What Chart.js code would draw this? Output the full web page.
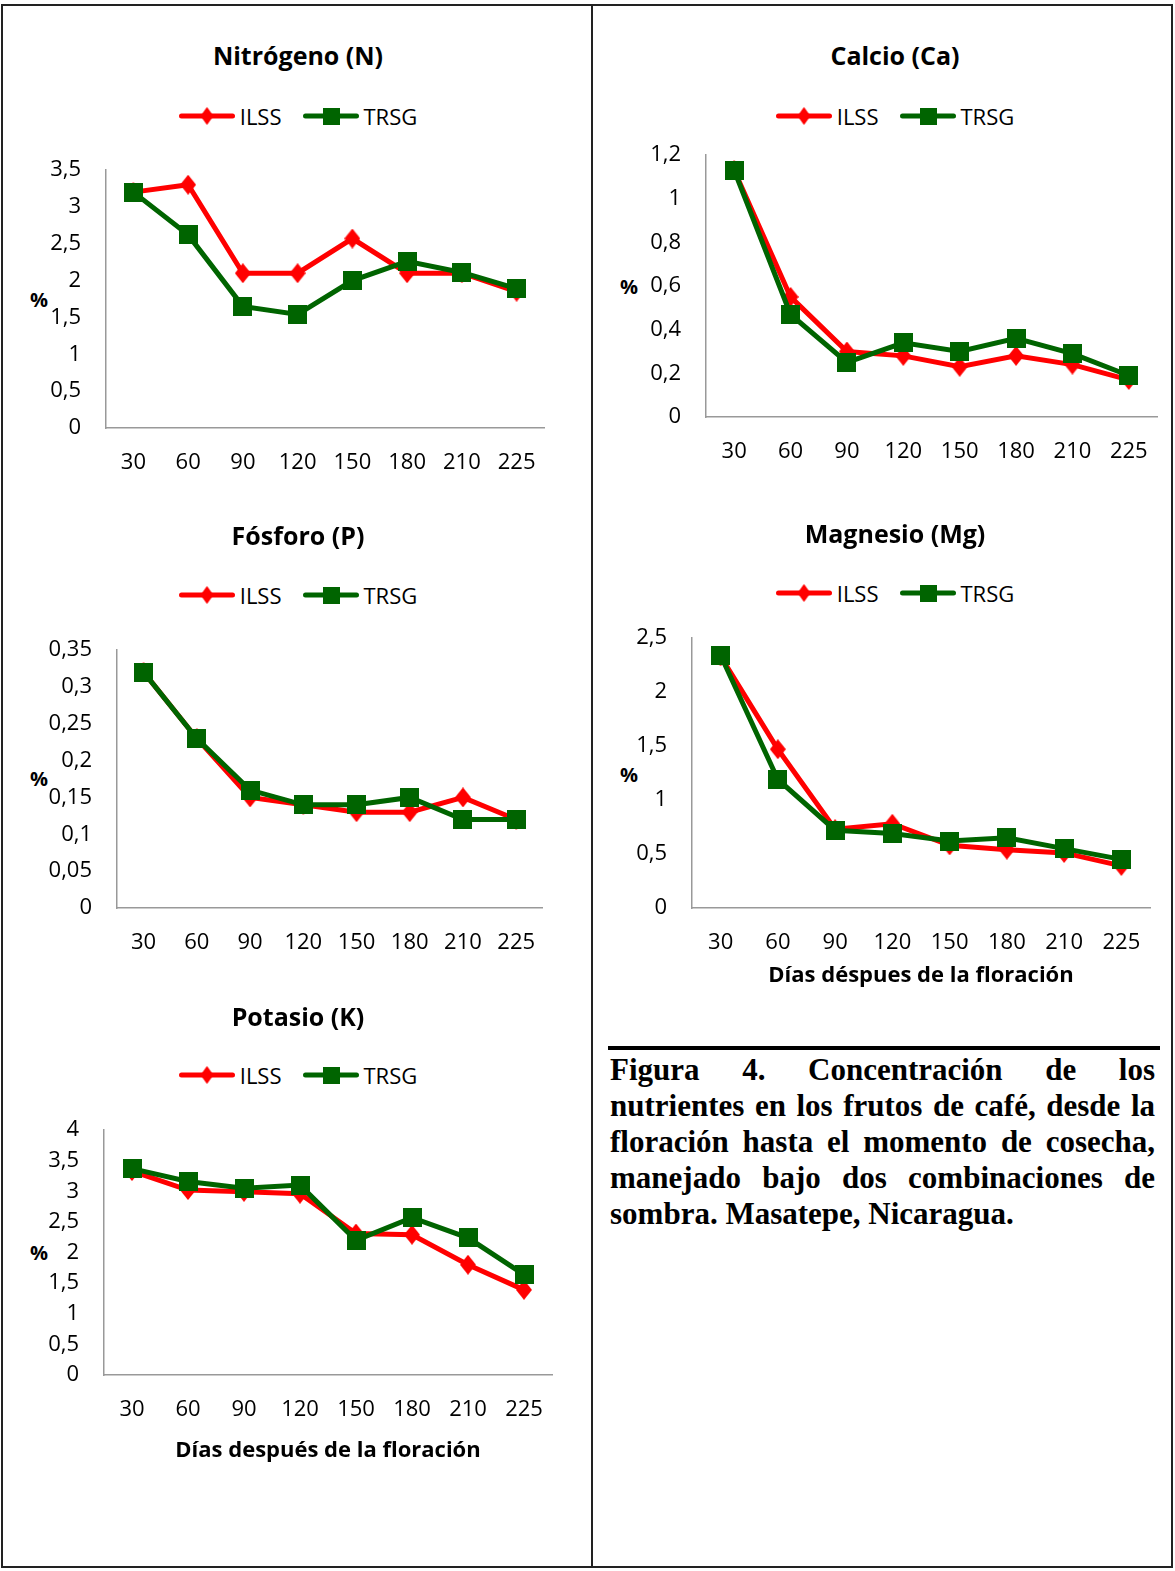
<!DOCTYPE html>
<html lang="es">
<head>
<meta charset="utf-8">
<title>Concentración de nutrientes en frutos de café</title>
<script src="https://cdn.jsdelivr.net/npm/chart.js@4.4.1/dist/chart.umd.min.js"></script>
<style>
  body { margin: 0; background: #fff; }
  #pagina { position: relative; width: 1175px; height: 1571px; overflow: hidden; background: #fff;
            font-family: "Open Sans", sans-serif; color: #000; }
  .linea { position: absolute; background: #222; }
  .titulo { position: absolute; width: 500px; height: 30px; line-height: 30px; text-align: center;
            font-weight: bold; font-size: 25px; white-space: nowrap; }
  .leyenda { position: absolute; width: 500px; height: 30px; display: flex; justify-content: center;
             align-items: center; font-size: 22px; line-height: 30px; }
  .leyenda .item { display: flex; align-items: center; }
  .leyenda .item + .item { margin-left: 21px; }
  .leyenda span { margin-left: 5px; }
  .porc { position: absolute; width: 40px; height: 30px; line-height: 30px; text-align: center;
          font-weight: bold; font-size: 20px; }
  canvas.grafico { position: absolute; }
  #pie { position: absolute; left: 610px; top: 1052px; width: 545px;
         font-family: "Liberation Serif", "Times New Roman", serif; font-weight: bold;
         font-size: 31px; line-height: 36px; text-align: justify; }
</style>
</head>
<body>
<div id="pagina">
  <div class="linea" style="left:1px;top:4px;width:1172px;height:2px"></div>
  <div class="linea" style="left:1px;top:1566px;width:1172px;height:2px"></div>
  <div class="linea" style="left:1px;top:4px;width:2px;height:1564px"></div>
  <div class="linea" style="left:591px;top:4px;width:2px;height:1564px"></div>
  <div class="linea" style="left:1171px;top:4px;width:2px;height:1564px"></div>
  <div class="linea" style="left:608px;top:1046px;width:552px;height:4px;background:#000"></div>
  <div id="pie">Figura 4. Concentración de los nutrientes en los frutos de café, desde la floración hasta el momento de cosecha, manejado bajo dos combinaciones de sombra. Masatepe, Nicaragua.</div>
</div>

<script>
// ---- datos ----
const dias = ['30', '60', '90', '120', '150', '180', '210', '225'];
const series = ['ILSS', 'TRSG'];

const nitrogenoILSS = [3.2, 3.3, 2.1, 2.1, 2.57, 2.1, 2.1, 1.85];
const nitrogenoTRSG = [3.2, 2.62, 1.65, 1.54, 2.0, 2.26, 2.11, 1.89];
const nitrogenoTicks = ['0', '0,5', '1', '1,5', '2', '2,5', '3', '3,5'];

const calcioILSS = [1.13, 0.55, 0.3, 0.28, 0.23, 0.28, 0.24, 0.17];
const calcioTRSG = [1.13, 0.47, 0.25, 0.34, 0.3, 0.36, 0.29, 0.19];
const calcioTicks = ['0', '0,2', '0,4', '0,6', '0,8', '1', '1,2'];

const fosforoILSS = [0.32, 0.23, 0.15, 0.14, 0.13, 0.13, 0.15, 0.12];
const fosforoTRSG = [0.32, 0.23, 0.16, 0.14, 0.14, 0.15, 0.12, 0.12];
const fosforoTicks = ['0', '0,05', '0,1', '0,15', '0,2', '0,25', '0,3', '0,35'];

const magnesioILSS = [2.33, 1.47, 0.73, 0.78, 0.58, 0.54, 0.51, 0.39];
const magnesioTRSG = [2.34, 1.19, 0.72, 0.69, 0.62, 0.65, 0.55, 0.45];
const magnesioTicks = ['0', '0,5', '1', '1,5', '2', '2,5'];

const potasioILSS = [3.33, 3.02, 2.99, 2.96, 2.31, 2.29, 1.8, 1.39];
const potasioTRSG = [3.37, 3.16, 3.05, 3.1, 2.2, 2.57, 2.24, 1.64];
const potasioTicks = ['0', '0,5', '1', '1,5', '2', '2,5', '3', '3,5', '4'];

// ---- estilos ----
const COLOR_ILSS = '#ff0000';
const COLOR_TRSG = '#006400';
const GROSOR = 5;

// margenes del canvas alrededor del area de trazado
// (arriba = media linea de etiqueta 13 + padding de ticks 25)
const M_IZQ = 100, M_SUP = 38, M_DER = 15, M_INF = 95;

Chart.defaults.font.family = '"Open Sans", sans-serif';
Chart.defaults.color = '#000';

function aNumero(txt) {
    return parseFloat(txt.replace(',', '.'));
}

function hacerRombo(color, w, h) {
    const c = document.createElement('canvas');
    c.width = w; c.height = h;
    const g = c.getContext('2d');
    g.fillStyle = color;
    g.beginPath();
    g.moveTo(w / 2, 0); g.lineTo(w, h / 2); g.lineTo(w / 2, h); g.lineTo(0, h / 2);
    g.closePath();
    g.fill();
    return c;
}

function hacerCuadro(color, lado) {
    const c = document.createElement('canvas');
    c.width = lado; c.height = lado;
    const g = c.getContext('2d');
    g.fillStyle = color;
    g.fillRect(0, 0, lado, lado);
    return c;
}

const marcaILSS = hacerRombo(COLOR_ILSS, 16, 20);
const marcaTRSG = hacerCuadro(COLOR_TRSG, 19);

function simboloLeyenda(color, marca) {
    const c = document.createElement('canvas');
    c.width = 56; c.height = 20;
    const g = c.getContext('2d');
    g.strokeStyle = color;
    g.lineWidth = GROSOR;
    g.lineCap = 'round';
    g.beginPath();
    g.moveTo(2.5, 10); g.lineTo(53.5, 10);
    g.stroke();
    g.drawImage(marca, 28 - marca.width / 2, 10 - marca.height / 2);
    return c;
}

// posiciones de cada panel (px de la pagina)
const paneles = [
    { titulo: 'Nitrógeno (N)', ilss: nitrogenoILSS, trsg: nitrogenoTRSG, ticks: nitrogenoTicks,
      cx: 298, yTitulo: 55, yLeyenda: 116, area: [106, 170, 544, 428], porc: [39, 300] },
    { titulo: 'Calcio (Ca)', ilss: calcioILSS, trsg: calcioTRSG, ticks: calcioTicks,
      cx: 895, yTitulo: 55, yLeyenda: 116, area: [706, 155, 1157, 417], porc: [629, 287] },
    { titulo: 'Fósforo (P)', ilss: fosforoILSS, trsg: fosforoTRSG, ticks: fosforoTicks,
      cx: 298, yTitulo: 535, yLeyenda: 595, area: [117, 650, 543, 908], porc: [39, 779] },
    { titulo: 'Magnesio (Mg)', ilss: magnesioILSS, trsg: magnesioTRSG, ticks: magnesioTicks,
      cx: 895, yTitulo: 533, yLeyenda: 593, area: [692, 638, 1150, 908], porc: [629, 775],
      tituloX: 'Días déspues de la floración', yTituloX: 976 },
    { titulo: 'Potasio (K)', ilss: potasioILSS, trsg: potasioTRSG, ticks: potasioTicks,
      cx: 298, yTitulo: 1016, yLeyenda: 1075, area: [104, 1130, 552, 1375], porc: [39, 1253],
      tituloX: 'Días después de la floración', yTituloX: 1451 }
];

const pagina = document.getElementById('pagina');

function crearPanel(p) {
    const titulo = document.createElement('div');
    titulo.className = 'titulo';
    titulo.style.left = (p.cx - 250) + 'px';
    titulo.style.top = (p.yTitulo - 15) + 'px';
    titulo.textContent = p.titulo;
    pagina.appendChild(titulo);

    const leyenda = document.createElement('div');
    leyenda.className = 'leyenda';
    leyenda.style.left = (p.cx - 250) + 'px';
    leyenda.style.top = (p.yLeyenda - 15) + 'px';
    const marcasLey = [hacerRombo(COLOR_ILSS, 13, 18), hacerCuadro(COLOR_TRSG, 17)];
    [[series[0], COLOR_ILSS, marcasLey[0]], [series[1], COLOR_TRSG, marcasLey[1]]].forEach(([nombre, color, marca]) => {
        const item = document.createElement('div');
        item.className = 'item';
        item.appendChild(simboloLeyenda(color, marca));
        const txt = document.createElement('span');
        txt.textContent = nombre;
        item.appendChild(txt);
        leyenda.appendChild(item);
    });
    pagina.appendChild(leyenda);

    const porc = document.createElement('div');
    porc.className = 'porc';
    porc.style.left = (p.porc[0] - 20) + 'px';
    porc.style.top = (p.porc[1] - 15) + 'px';
    porc.textContent = '%';
    pagina.appendChild(porc);

    const [izq, arriba, der, abajo] = p.area;
    const canvas = document.createElement('canvas');
    canvas.className = 'grafico';
    canvas.width = der - izq + M_IZQ + M_DER;
    canvas.height = abajo - arriba + M_SUP + M_INF;
    canvas.style.left = (izq - M_IZQ) + 'px';
    canvas.style.top = (arriba - M_SUP) + 'px';
    pagina.appendChild(canvas);

    const maxY = aNumero(p.ticks[p.ticks.length - 1]);
    const conTituloX = !!p.tituloX;
    const padTituloX = conTituloX ? M_INF - (p.yTituloX - abajo) - 22 * 1.2 / 2 : 0;

    new Chart(canvas.getContext('2d'), {
        type: 'line',
        data: {
            labels: dias,
            datasets: [
                {
                    label: series[0],
                    data: p.ilss,
                    borderColor: COLOR_ILSS,
                    backgroundColor: COLOR_ILSS,
                    borderWidth: GROSOR,
                    pointStyle: marcaILSS,
                    pointRadius: 8,
                    tension: 0,
                    clip: false,
                    order: 2
                },
                {
                    label: series[1],
                    data: p.trsg,
                    borderColor: COLOR_TRSG,
                    backgroundColor: COLOR_TRSG,
                    borderWidth: GROSOR,
                    pointStyle: marcaTRSG,
                    pointRadius: 8,
                    tension: 0,
                    clip: false,
                    order: 1
                }
            ]
        },
        options: {
            responsive: false,
            animation: false,
            events: [],
            layout: { autoPadding: false, padding: { left: 0, top: 0, right: M_DER, bottom: 0 } },
            plugins: {
                legend: { display: false },
                title: { display: false },
                tooltip: { enabled: false }
            },
            scales: {
                x: {
                    type: 'category',
                    offset: true,
                    grid: { display: false, drawTicks: false },
                    border: { display: true, color: '#999', width: 1.5 },
                    ticks: { font: { size: 22 }, color: '#000', padding: 22, maxRotation: 0, autoSkip: false },
                    title: {
                        display: conTituloX,
                        text: p.tituloX || '',
                        font: { size: 22, weight: 'bold' },
                        color: '#000',
                        padding: { top: 0, bottom: padTituloX }
                    },
                    afterFit: (escala) => { escala.height = M_INF; }
                },
                y: {
                    min: 0,
                    max: maxY,
                    grid: { display: false, drawTicks: false },
                    border: { display: true, color: '#999', width: 1.5 },
                    ticks: {
                        font: { size: 22, lineHeight: '26px' },
                        color: '#000',
                        padding: 25,
                        autoSkip: false,
                        callback: (valor, i) => p.ticks[i]
                    },
                    afterBuildTicks: (escala) => {
                        escala.ticks = p.ticks.map(t => ({ value: aNumero(t) }));
                    },
                    afterFit: (escala) => { escala.width = M_IZQ; }
                }
            }
        }
    });
}

paneles.forEach(crearPanel);
</script>
</body>
</html>
